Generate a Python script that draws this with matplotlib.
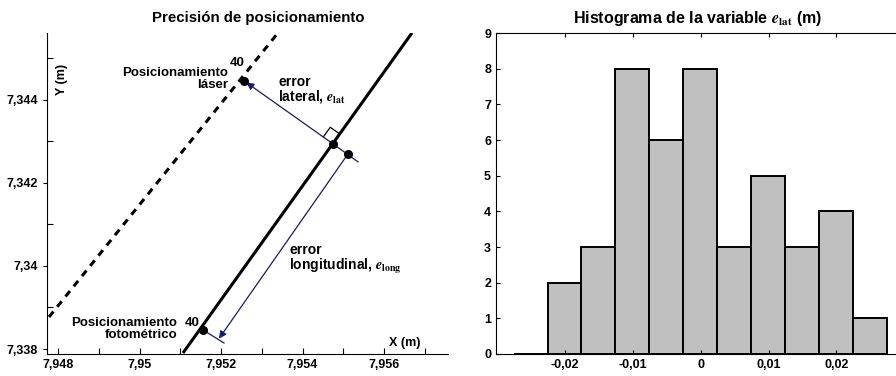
"""Precisión de posicionamiento + histograma del error lateral."""

import matplotlib
matplotlib.use("Agg")
import matplotlib.pyplot as plt
import numpy as np

plt.rcParams["font.family"] = ["Liberation Sans", "DejaVu Sans"]
plt.rcParams["font.weight"] = "bold"
plt.rcParams["mathtext.fontset"] = "stix"

NAVY = "#1a1a6e"

# --- left panel data (m) ---
photo_track_x = [7.951067, 7.956687]
photo_track_y = [7.337904, 7.345614]
laser_track_x = [7.947779, 7.953399]
laser_track_y = [7.338771, 7.345614]

laser_pt = (7.952564, 7.344458)
foot_pt = (7.954748, 7.342940)
offset_pt = (7.955117, 7.342699)
lat_end = (7.955362, 7.342506)
photo_pt = (7.951558, 7.338458)
photo_tick_end = (7.952074, 7.338145)
long_tip = (7.951950, 7.338250)

x_ticks = [7.948, 7.950, 7.952, 7.954, 7.956]
x_ticklabels = ["7,948", "7,95", "7,952", "7,954", "7,956"]
x_minor = [7.949, 7.951, 7.953, 7.955, 7.957]
y_ticks = [7.338, 7.340, 7.342, 7.344]
y_ticklabels = ["7,338", "7,34", "7,342", "7,344"]
y_minor = [7.339, 7.341, 7.343, 7.345]

# --- histogram data ---
bin_start = -0.0276
bin_width = 0.005
counts = [0, 2, 3, 8, 6, 8, 3, 5, 3, 4, 1]
h_ticks = [-0.02, -0.01, 0.0, 0.01, 0.02]
h_ticklabels = ["-0,02", "-0,01", "0", "0,01", "0,02"]

fig = plt.figure(figsize=(8.96, 3.76), dpi=100)

# ---------------- left panel ----------------
ax = fig.add_axes([47 / 896, 1 - 354 / 376, 401 / 896, 321 / 376])
ax.set_xlim(7.94773, 7.95757)
ax.set_ylim(7.33788, 7.34561)
for s in ["top", "right"]:
    ax.spines[s].set_visible(False)

ax.plot(photo_track_x, photo_track_y, color="black", lw=2.2, solid_capstyle="butt")
ax.plot(laser_track_x, laser_track_y, color="black", lw=2.2, dashes=(2.3, 2.0))

# lateral error line + arrow towards laser point
ax.plot([foot_pt[0], lat_end[0]], [foot_pt[1], lat_end[1]], color=NAVY, lw=0.9)
ax.annotate("", xy=laser_pt, xytext=foot_pt,
            arrowprops=dict(arrowstyle="-|>", color=NAVY, lw=0.9,
                            mutation_scale=11, shrinkA=0, shrinkB=2))
# longitudinal error
ax.plot([photo_pt[0], photo_tick_end[0]], [photo_pt[1], photo_tick_end[1]], color=NAVY, lw=0.9)
ax.annotate("", xy=long_tip, xytext=offset_pt,
            arrowprops=dict(arrowstyle="-|>", color=NAVY, lw=0.9,
                            mutation_scale=11, shrinkA=0, shrinkB=0))

# right-angle marker at the foot of the perpendicular
u_lat = np.array(laser_pt) - np.array(foot_pt)
u_lat /= np.hypot(*u_lat)
u_trk = np.array([photo_track_x[1] - photo_track_x[0], photo_track_y[1] - photo_track_y[0]])
u_trk /= np.hypot(*u_trk)
side = 0.00029
f = np.array(foot_pt)
sq = np.array([f + side * u_lat, f + side * (u_lat + u_trk), f + side * u_trk])
ax.plot(sq[:, 0], sq[:, 1], color="black", lw=0.9)

ax.plot([laser_pt[0], foot_pt[0], offset_pt[0], photo_pt[0]],
        [laser_pt[1], foot_pt[1], offset_pt[1], photo_pt[1]],
        "o", color="black", ms=5.5, zorder=5)

fs = 9.5
ax.text(7.952393, 7.344892, "40", ha="center", va="center", fontsize=fs)
ax.text(7.952172, 7.344494, "Posicionamiento\nláser", ha="right", va="center",
        fontsize=fs, multialignment="right", linespacing=1.0)
ax.text(7.953399, 7.344241, "error\nlateral, $e_{\\mathrm{lat}}$", ha="left", va="center",
        fontsize=fs + 0.5, linespacing=0.95)
ax.text(7.953669, 7.340157, "error\nlongitudinal, $e_{\\mathrm{long}}$", ha="left", va="center",
        fontsize=fs + 0.5, linespacing=0.95)
ax.text(7.950920, 7.338470, "Posicionamiento\nfotométrico", ha="right", va="center",
        fontsize=fs, multialignment="right", linespacing=1.0)
ax.text(7.951288, 7.338627, "40", ha="center", va="center", fontsize=fs)

ax.text(0.037, 0.854, "Y (m)", transform=ax.transAxes, rotation=90,
        ha="center", va="center", fontsize=9)
ax.text(0.893, 0.034, "X (m)", transform=ax.transAxes, ha="center", va="center", fontsize=9)

ax.set_xticks(x_ticks)
ax.set_xticklabels(x_ticklabels)
ax.set_xticks(x_minor, minor=True)
ax.set_yticks(y_ticks)
ax.set_yticklabels(y_ticklabels)
ax.set_yticks(y_minor, minor=True)
ax.tick_params(axis="x", which="both", direction="in", length=4, width=0.8, labelsize=9)
ax.tick_params(axis="y", which="major", direction="out", length=3, width=0.8, labelsize=9)
ax.tick_params(axis="y", which="minor", direction="in", length=4, width=0.8)

fig.text(258 / 896, 1 - 18 / 376, "Precisión de posicionamiento", ha="center", va="center",
         fontsize=10.8)

# ---------------- histogram ----------------
ah = fig.add_axes([496 / 896, 1 - 354 / 376, 400 / 896, 321 / 376])
edges = bin_start + bin_width * np.arange(len(counts) + 1)
ah.bar(edges[:-1], counts, width=bin_width, align="edge", color="#c0c0c0",
       edgecolor="black", linewidth=1.4)
ah.set_xlim(-0.0302, 0.0288)
ah.set_ylim(0, 9)
ah.spines["right"].set_visible(False)
ah.set_xticks(h_ticks)
ah.set_xticklabels(h_ticklabels)
ah.set_yticks(range(10))
ah.tick_params(which="both", direction="in", length=3, width=0.8, top=True, labelsize=9)

fig.text(698 / 896, 1 - 18 / 376, "Histograma de la variable $e_{\\mathrm{lat}}$ (m)",
         ha="center", va="center", fontsize=11.5)

fig.savefig("out.png", dpi=100)
